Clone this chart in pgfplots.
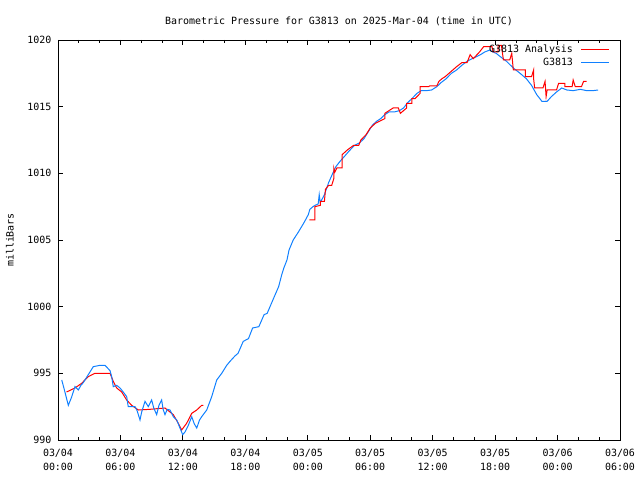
\documentclass[border=0pt]{standalone}
\usepackage{fontspec}
\setmainfont{DejaVu Sans Mono}
\usepackage{pgfplots}
\pgfplotsset{compat=1.18}
\definecolor{gred}{RGB}{255,0,0}
\definecolor{gblue}{RGB}{16,128,255}
\begin{document}
\fontsize{10}{11}\selectfont
\begin{tikzpicture}
\path[use as bounding box] (-58bp,-40bp) rectangle (582bp,440bp);
\begin{axis}[
  at={(0,0)}, anchor=south west,
  scale only axis, width=562bp, height=400bp,
  font=\fontsize{10}{11}\selectfont,
  /pgf/number format/assume math mode=true,
  xmin=0, xmax=54, ymin=990, ymax=1020,
  xtick={0,6,...,54},
  xticklabels={{03/04\\00:00},{03/04\\06:00},{03/04\\12:00},{03/04\\18:00},{03/05\\00:00},{03/05\\06:00},{03/05\\12:00},{03/05\\18:00},{03/06\\00:00},{03/06\\06:00}},
  xticklabel style={align=center, font=\fontsize{10}{14}\selectfont, yshift=-5.5bp},
  minor x tick num=2,
  ytick={990,995,...,1020},
  yticklabel style={xshift=-3bp, /pgf/number format/fixed, /pgf/number format/set thousands separator={}},
  tick align=inside,
  major tick length=5bp, minor tick length=3bp,
  tick style={black, line width=0.8bp},
  axis line style={line width=0.8bp},
  title={Barometric Pressure for G3813 on 2025-Mar-04 (time in UTC)},
  title style={at={(axis description cs:0.5,1)}, anchor=center, yshift=13bp},
  ylabel={milliBars},
  ylabel style={at={(axis description cs:-0.0854,0.5)}, anchor=center},
  legend style={at={(axis description cs:1,1)}, anchor=north east, xshift=-10bp, yshift=-3bp,
    draw=none, fill=none, inner sep=0pt, outer sep=0pt, column sep=8bp,
    nodes={inner xsep=0pt, inner ysep=0pt, minimum height=13bp}},
  legend cell align=right,
  legend plot pos=right,
  legend image code/.code={\draw[#1] (0bp,0bp) -- (28bp,0bp);},
]
\addplot[gred, line width=1bp] coordinates {
(0.82,993.6)(1.63,993.9)(2.27,994.25)(2.91,994.75)(3.55,995.0)(5.00,995.0)(5.31,994.4)(5.64,993.9)(6.12,993.6)(6.60,993.0)(7.08,992.6)(7.72,992.25)(8.8,992.3)(10.28,992.4)(11.08,991.9)(11.56,991.25)(11.88,990.75)(12.36,991.25)(12.85,992.0)(13.33,992.25)(13.81,992.6)(13.97,992.6)
};
\addlegendentry{G3813 Analysis}
\addplot[gblue, line width=1bp] coordinates {
(0.36,994.5)(0.6,993.8)(0.99,992.6)(1.3,993.2)(1.63,994.0)(1.95,993.75)(2.2,994.1)(2.43,994.3)(2.91,994.9)(3.39,995.5)(4.04,995.6)(4.52,995.6)(5.00,995.2)(5.16,994.75)(5.31,994.0)(5.64,994.1)(5.96,993.9)(6.27,993.6)(6.60,993.25)(6.75,992.5)(7.40,992.5)(7.6,992.2)(7.88,991.5)(8.04,992.1)(8.36,992.9)(8.68,992.5)(9.00,993.0)(9.2,992.4)(9.48,991.9)(9.7,992.6)(9.96,993.0)(10.1,992.3)(10.28,991.9)(10.5,992.3)(10.76,992.25)(11.08,991.75)(11.41,991.5)(11.72,990.9)(11.98,990.4)(12.20,990.6)(12.52,991.1)(12.85,991.75)(13.1,991.2)(13.33,990.9)(13.6,991.5)(13.81,991.75)(14.29,992.25)(14.77,993.25)(15.25,994.5)(15.73,995.0)(16.21,995.6)(16.53,995.9)(17.0,996.3)(17.3,996.5)(17.8,997.4)(18.3,997.6)(18.7,998.4)(19.3,998.5)(19.8,999.4)(20.1,999.5)(20.7,1000.6)(21.2,1001.5)(21.5,1002.4)(21.7,1002.9)(22.0,1003.5)(22.2,1004.25)(22.6,1005.0)(23.1,1005.6)(23.6,1006.25)(24.05,1006.9)(24.2,1007.3)(24.5,1007.5)(24.7,1007.6)(25.0,1007.7)(25.1,1008.4)(25.2,1007.8)(25.6,1008.4)(26.0,1009.3)(26.4,1010.0)(26.7,1010.5)(27.1,1010.9)(27.5,1011.25)(28.0,1011.7)(28.5,1012.1)(29.0,1012.3)(29.4,1012.6)(29.8,1013.1)(30.2,1013.6)(30.6,1013.9)(31.0,1014.1)(31.4,1014.4)(31.8,1014.6)(32.3,1014.6)(32.8,1014.7)(33.2,1014.9)(33.6,1015.3)(34.0,1015.6)(34.5,1016.0)(34.9,1016.2)(35.4,1016.2)(35.9,1016.25)(36.4,1016.5)(36.8,1016.8)(37.3,1017.1)(37.8,1017.5)(38.3,1017.75)(38.8,1018.1)(39.3,1018.4)(39.8,1018.6)(40.2,1018.75)(40.6,1018.9)(41.0,1019.1)(41.5,1019.25)(41.8,1019.1)(42.1,1019.0)(42.5,1018.75)(43.1,1018.4)(43.75,1017.9)(44.4,1017.5)(45.0,1017.1)(45.5,1016.6)(46.0,1015.9)(46.5,1015.4)(47.0,1015.4)(47.4,1015.75)(47.9,1016.1)(48.4,1016.4)(48.9,1016.25)(49.5,1016.2)(50.2,1016.3)(50.8,1016.2)(51.4,1016.2)(51.9,1016.25)
};
\addlegendentry{G3813}
\addplot[gred, line width=1bp, forget plot] coordinates {
(24.15,1006.5)(24.69,1006.5)(24.69,1007.5)(25.2,1007.6)(25.2,1007.9)(25.6,1007.9)(25.7,1008.8)(26.0,1009.1)(26.3,1009.1)(26.5,1009.6)(26.5,1010.4)(26.6,1010.1)(26.8,1010.4)(27.3,1010.4)(27.3,1011.4)(27.8,1011.75)(28.4,1012.1)(28.9,1012.1)(29.1,1012.5)(29.6,1012.9)(30.0,1013.4)(30.5,1013.75)(31.4,1014.1)(31.4,1014.5)(32.2,1014.9)(32.7,1014.9)(32.9,1014.5)(33.5,1014.9)(33.5,1015.25)(34.0,1015.25)(34.0,1015.6)(34.3,1015.6)(34.8,1016.0)(34.8,1016.5)(35.6,1016.5)(35.7,1016.55)(36.4,1016.55)(36.6,1016.9)(36.9,1017.1)(37.2,1017.25)(38.3,1018.0)(38.8,1018.3)(39.3,1018.3)(39.6,1018.9)(39.9,1018.6)(40.5,1019.1)(40.9,1019.5)(41.7,1019.5)(41.8,1019.1)(42.3,1019.1)(42.3,1019.6)(42.6,1019.6)(42.8,1018.5)(43.4,1018.5)(43.6,1019.0)(43.75,1017.75)(44.9,1017.75)(44.9,1017.25)(45.5,1017.25)(45.7,1017.75)(45.7,1017.1)(45.8,1016.4)(46.6,1016.4)(46.8,1016.9)(46.9,1015.75)(47.0,1016.25)(47.9,1016.25)(48.1,1016.75)(48.7,1016.75)(48.7,1016.5)(49.4,1016.5)(49.5,1017.0)(49.7,1016.5)(50.3,1016.5)(50.5,1016.9)(50.8,1016.9)
};
\end{axis}
\end{tikzpicture}
\end{document}
